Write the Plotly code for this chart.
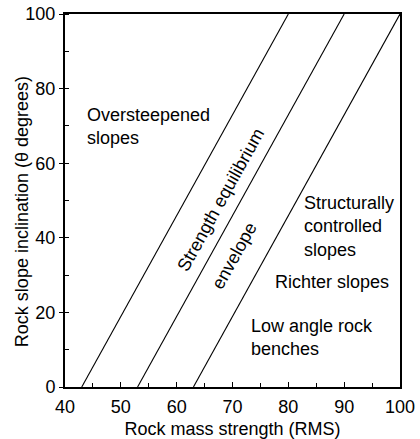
import plotly.graph_objects as go

# Boundary lines (RMS at theta=0 and theta=100)
line_rms_bottom = [43, 53, 63]
line_rms_top = [80, 90, 100]
line_theta = [0, 100]

x_ticks = [40, 50, 60, 70, 80, 90, 100]
y_ticks = [0, 20, 40, 60, 80, 100]

FONT = "Liberation Sans, Arial, Helvetica, sans-serif"

fig = go.Figure()
for xb, xt in zip(line_rms_bottom, line_rms_top):
    fig.add_trace(go.Scatter(x=[xb, xt], y=line_theta, mode="lines",
                             line=dict(color="black", width=1.1),
                             showlegend=False, hoverinfo="skip"))

ann_font = dict(family=FONT, size=18, color="black")
annotations = [
    dict(x=43.6, y=69.8, text="Oversteepened<br>slopes", xanchor="left", yanchor="middle", align="left"),
    dict(x=67.9, y=50.1, text="Strength equilibrium", textangle=-61, xanchor="center", yanchor="middle"),
    dict(x=70.3, y=35.1, text="envelope", textangle=-61, xanchor="center", yanchor="middle"),
    dict(x=82.4, y=42.9, text="Structurally<br>controlled<br>slopes", xanchor="left", yanchor="middle", align="left"),
    dict(x=77.3, y=28.2, text="Richter slopes", xanchor="left", yanchor="middle", align="left"),
    dict(x=73.0, y=13.3, text="Low angle rock<br>benches", xanchor="left", yanchor="middle", align="left"),
]
for a in annotations:
    a.update(xref="x", yref="y", showarrow=False, font=ann_font)
    fig.add_annotation(**a)

fig.add_annotation(xref="paper", yref="paper", x=-0.13, y=0.47,
                   text="Rock slope inclination (θ degrees)", textangle=-90,
                   showarrow=False, xanchor="center", yanchor="middle",
                   font=dict(family=FONT, size=18, color="black"))

fig.update_layout(
    width=420, height=439,
    margin=dict(l=65, r=20, t=14, b=52),
    paper_bgcolor="white", plot_bgcolor="white",
    font=dict(family=FONT, size=18, color="black"),
    showlegend=False,
)
fig.update_xaxes(
    range=[40, 100], tickvals=x_ticks, ticks="inside", ticklen=5, tickcolor="black",
    showline=True, linecolor="black", linewidth=2, mirror=True, showgrid=False, zeroline=False,
    minor=dict(dtick=5, ticks="inside", ticklen=4, tickcolor="black"),
    title=dict(text="Rock mass strength (RMS)", standoff=10, font=dict(size=18)),
    tickfont=dict(size=18), ticklabelstandoff=2, automargin=False,
)
fig.update_yaxes(
    range=[0, 100], tickvals=y_ticks, ticks="outside", ticklen=4, tickcolor="black",
    showline=True, linecolor="black", linewidth=2, mirror=True, showgrid=False, zeroline=False,
    minor=dict(dtick=10, ticks="inside", ticklen=4, tickcolor="black"),
    tickfont=dict(size=18), automargin=False,
)

fig.write_html("out.html")
